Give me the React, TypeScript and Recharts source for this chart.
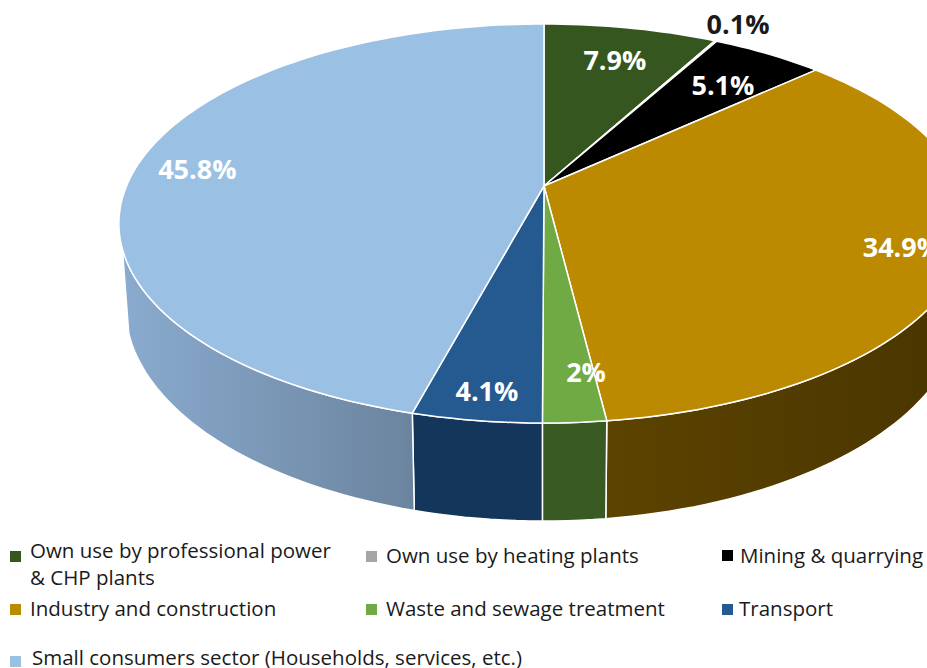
import React from 'react';
import { PieChart, Pie, Legend } from 'recharts';

const categories = [
  'Own use by professional power & CHP plants',
  'Own use by heating plants',
  'Mining & quarrying',
  'Industry and construction',
  'Waste and sewage treatment',
  'Transport',
  'Small consumers sector (Households, services, etc.)',
];
const shares = [7.9, 0.1, 5.1, 34.9, 2, 4.1, 45.8];

const topColors = ['#36561f', '#a5a5a5', '#000000', '#bb8a00', '#6faa45', '#245a90', '#9ac0e3'];
const wallColors = ['#36561f', '#a5a5a5', '#000000', 'url(#wallGold)', '#3a5a23', '#14365a', 'url(#wallBlue)'];

// label placement along each slice, as a fraction of the radius
const labelRadii = [0.777, 1.147, 0.747, 0.862, 0.817, 0.895, 0.855];
const labelNudgeX = [1, 1, 6, 0, 18, 2, 0];
const labelNudgeY = [0, 0, 0, 0, 0, 0, 3];
const labelColors = ['#fff', '#1a1a1a', '#fff', '#fff', '#fff', '#fff', '#fff'];

// legend slots: swatch x/y, text x/y (top of the line box), width, line height
const legendSlots = [
  { sx: 10, sy: 551, tx: 30, ty: 537, w: 312, lh: 27 },
  { sx: 366, sy: 551, tx: 386, ty: 542, w: 320, lh: 27 },
  { sx: 722, sy: 550, tx: 740, ty: 542, w: 187, lh: 27 },
  { sx: 10, sy: 604, tx: 30, ty: 595, w: 320, lh: 27 },
  { sx: 366, sy: 604, tx: 386, ty: 595, w: 320, lh: 27 },
  { sx: 722, sy: 604, tx: 739, ty: 595, w: 187, lh: 27 },
  { sx: 10, sy: 656, tx: 32, ty: 646, w: 600, lh: 22 },
];

const FONT = '"Open Sans", "Noto Sans", sans-serif';

const tableTop = categories.map((name, i) => ({ name, value: shares[i], fill: topColors[i] }));
const tableWall = categories.map((name, i) => ({ name, value: shares[i], fill: wallColors[i] }));

// the picture is a perspective pie: the circle is foreshortened and the near side is bigger
const PERSPECTIVE = 0.188;
const TILT = 0.461;
const WALL_DEPTH = 79.6;
const WALL_NARROW = 0.985;

const project = (cx: number, cy: number, r: number, angle: number, frac = 1) => {
  const a = (angle * Math.PI) / 180;
  const u = Math.cos(a) * frac;
  const v = Math.sin(a) * frac;
  const d = 1 + PERSPECTIVE * v;
  return { x: cx + (r * u) / d, y: cy - (r * TILT * v) / d, d };
};

const arcPoints = (start: number, end: number) => {
  const steps = Math.max(2, Math.ceil(Math.abs(end - start) / 1.5));
  const out: number[] = [];
  for (let i = 0; i <= steps; i++) out.push(start + ((end - start) * i) / steps);
  return out;
};

const TopSlice = (props: any) => {
  const { cx, cy, outerRadius, startAngle, endAngle, fill } = props;
  const pts = arcPoints(startAngle, endAngle).map((a) => project(cx, cy, outerRadius, a));
  const d = `M${cx},${cy} ` + pts.map((p) => `L${p.x.toFixed(1)},${p.y.toFixed(1)}`).join(' ') + ' Z';
  return <path d={d} fill={fill} stroke="#fff" strokeWidth={1.5} strokeLinejoin="round" />;
};

const WallSlice = (props: any) => {
  const { cx, cy, outerRadius, startAngle, endAngle, fill } = props;
  // only the part of the rim that faces the viewer is visible
  const s = Math.min(startAngle, -18);
  const e = Math.max(endAngle, -162);
  if (s <= e) return <g />;
  const angles = arcPoints(s, e);
  const upper = angles.map((a) => project(cx, cy, outerRadius, a));
  const lower = upper.map((p) => ({
    x: cx + (p.x - cx) * WALL_NARROW,
    y: p.y + WALL_DEPTH / p.d,
  }));
  const d =
    upper.map((p, i) => `${i ? 'L' : 'M'}${p.x.toFixed(1)},${p.y.toFixed(1)}`).join(' ') +
    ' ' +
    lower
      .reverse()
      .map((p) => `L${p.x.toFixed(1)},${p.y.toFixed(1)}`)
      .join(' ') +
    ' Z';
  return <path d={d} fill={fill} stroke="#fff" strokeWidth={1.5} strokeLinejoin="round" />;
};

const renderLabel = (props: any) => {
  const { cx, cy, outerRadius, midAngle, index, value } = props;
  const p = project(cx, cy, outerRadius, midAngle, labelRadii[index]);
  return (
    <text
      x={p.x + labelNudgeX[index]}
      y={p.y + labelNudgeY[index]}
      fill={labelColors[index]}
      textAnchor="middle"
      dominantBaseline="central"
      fontFamily={FONT}
      fontWeight={700}
      fontSize={27}
    >
      {`${value}%`}
    </text>
  );
};

const LegendBlock = () => (
  <div style={{ position: 'relative', width: 927, height: 668, fontFamily: FONT, fontSize: 20.5, color: '#1a1a1a' }}>
    {categories.map((name, i) => {
      const slot = legendSlots[i];
      return (
        <React.Fragment key={name}>
          <div
            style={{
              position: 'absolute',
              left: slot.sx,
              top: slot.sy,
              width: 11,
              height: 11,
              background: topColors[i],
            }}
          />
          <div
            style={{
              position: 'absolute',
              left: slot.tx,
              top: slot.ty,
              width: slot.w,
              lineHeight: `${slot.lh}px`,
            }}
          >
            {name}
          </div>
        </React.Fragment>
      );
    })}
  </div>
);

export default function App() {
  return (
    <div style={{ position: 'absolute', left: 0, top: 0, width: 927, height: 668, overflow: 'hidden', background: '#fff' }}>
      <PieChart width={927} height={668} margin={{ top: 0, right: 0, bottom: 0, left: 0 }}>
        <defs>
          <linearGradient id="wallBlue" x1="0" y1="0" x2="1" y2="0">
            <stop offset="0%" stopColor="#8aabcf" />
            <stop offset="100%" stopColor="#6b849e" />
          </linearGradient>
          <linearGradient id="wallGold" x1="0" y1="0" x2="1" y2="0">
            <stop offset="0%" stopColor="#5c4300" />
            <stop offset="100%" stopColor="#493500" />
          </linearGradient>
        </defs>
        <Pie
          data={tableWall}
          dataKey="value"
          nameKey="name"
          cx={544}
          cy={186}
          innerRadius={0}
          outerRadius={417.5}
          startAngle={90}
          endAngle={-270}
          shape={WallSlice}
          legendType="none"
          isAnimationActive={false}
        />
        <Pie
          data={tableTop}
          dataKey="value"
          nameKey="name"
          cx={544}
          cy={186}
          innerRadius={0}
          outerRadius={417.5}
          startAngle={90}
          endAngle={-270}
          shape={TopSlice}
          label={renderLabel}
          labelLine={false}
          isAnimationActive={false}
        />
        <Legend
          content={LegendBlock}
          wrapperStyle={{ position: 'absolute', left: 0, top: 0, bottom: 'auto', width: 927, height: 0 }}
        />
      </PieChart>
    </div>
  );
}
